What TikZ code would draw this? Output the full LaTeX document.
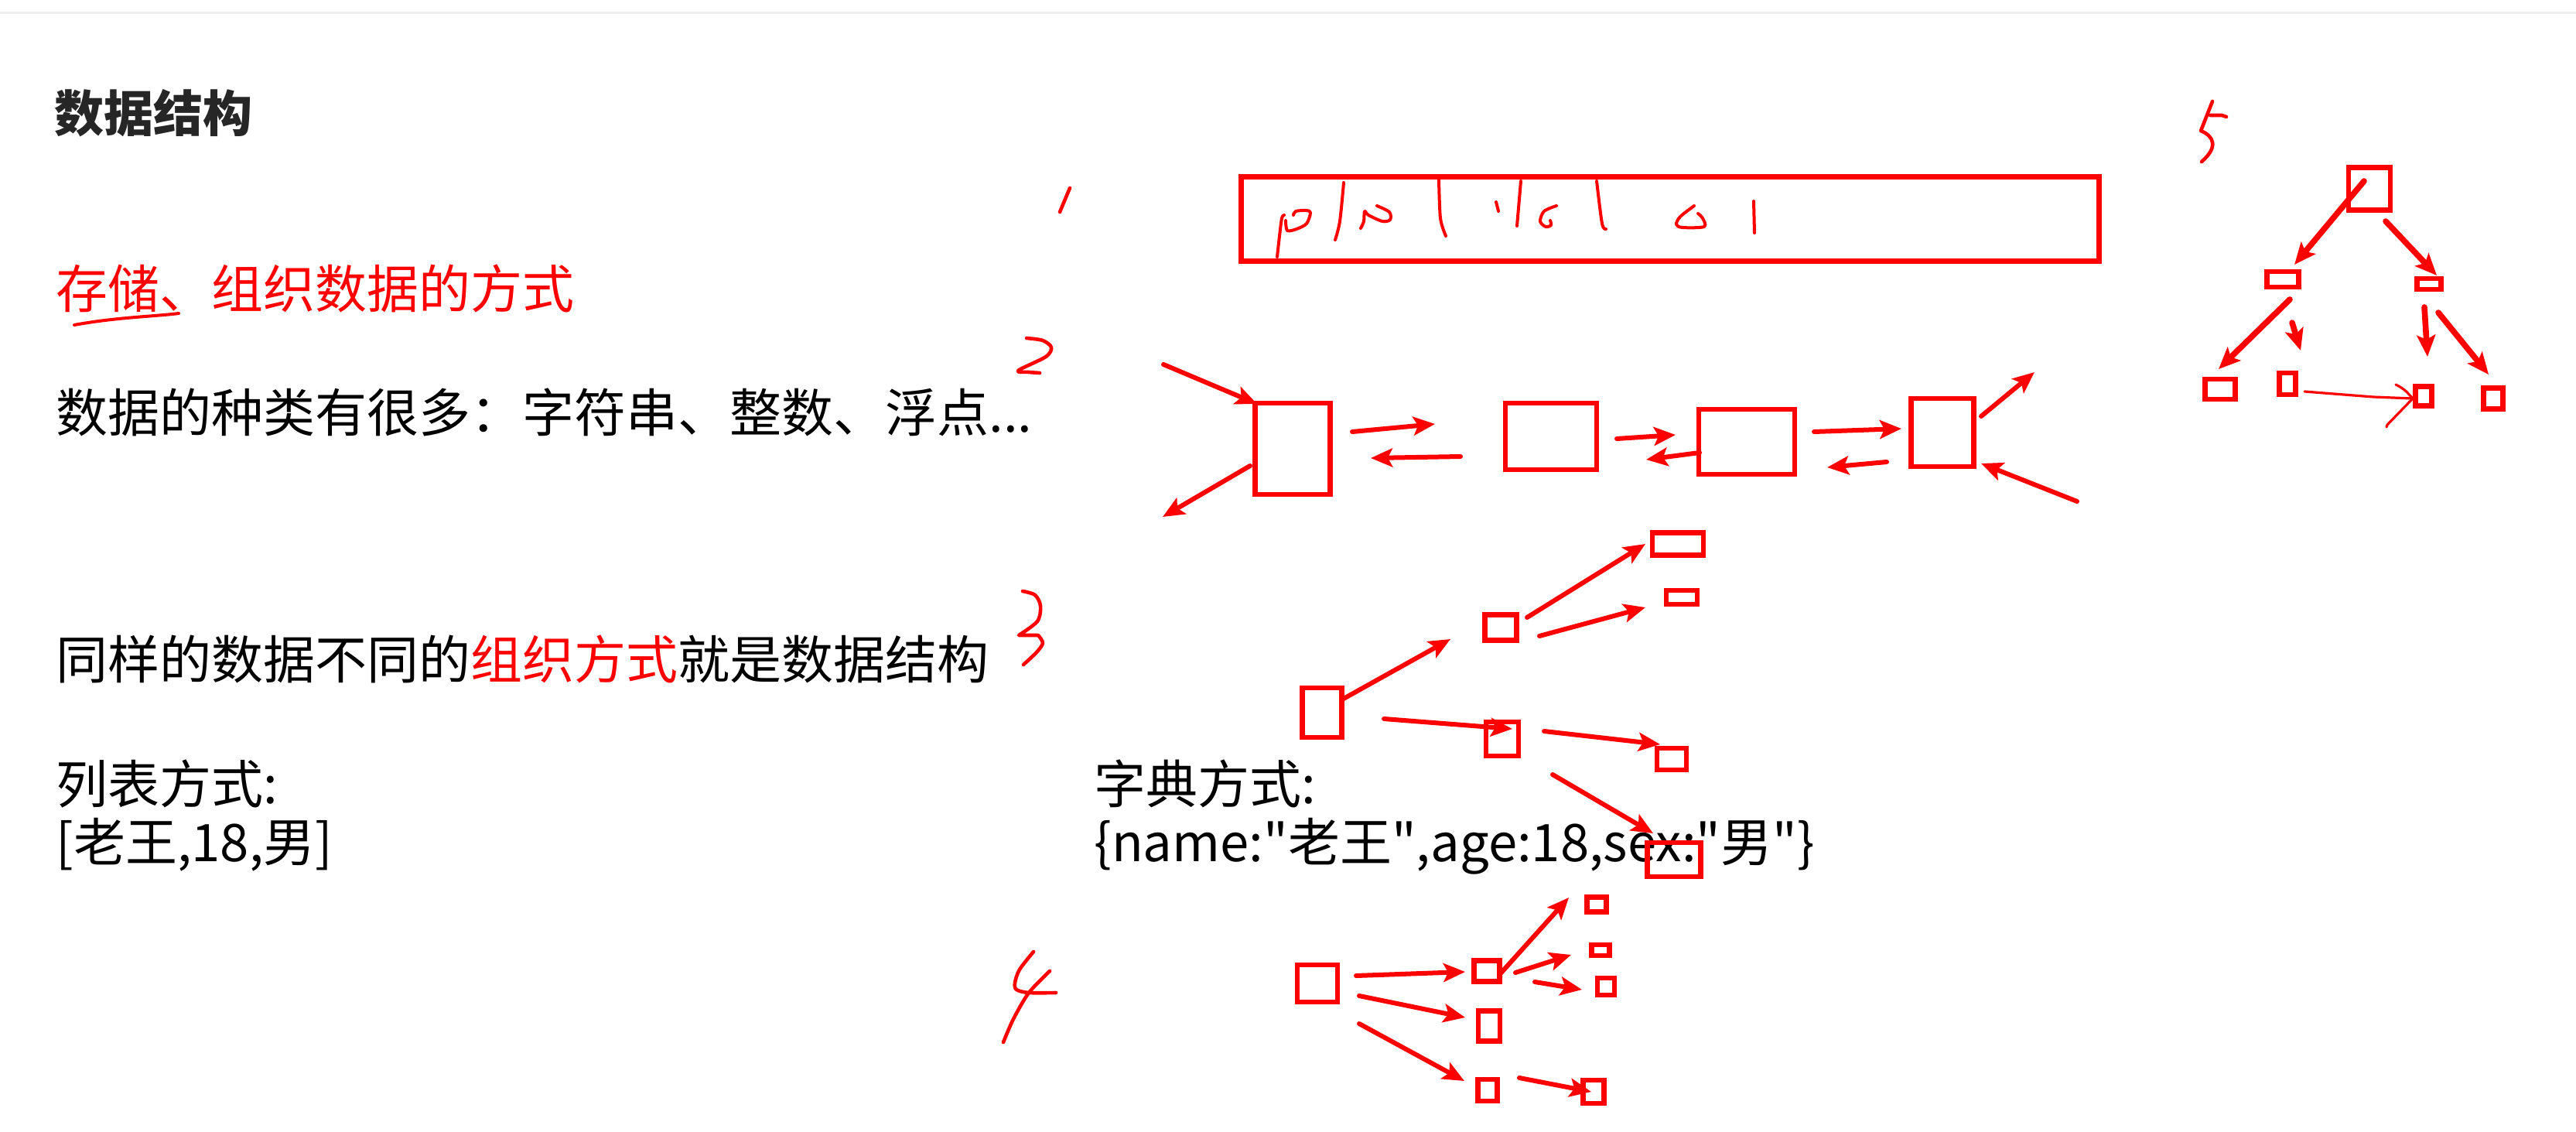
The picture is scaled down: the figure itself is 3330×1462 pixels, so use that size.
\documentclass[tikz,border=0pt]{standalone}
\usepackage{fontspec}
\setmainfont{Noto Sans CJK SC}
\usetikzlibrary{arrows.meta,calc}
\definecolor{ink}{HTML}{FF0000}
\definecolor{head}{HTML}{262626}
\definecolor{rule}{HTML}{EEEEEE}
\newcommand{\qq}{\textquotedbl}
\tikzset{
  box/.style={draw=ink, line width=3.2pt, inner sep=0pt, rectangle},
  sz/.style 2 args={minimum width=#1*.5pt, minimum height=#2*.5pt},
  arr/.style={draw=ink, line width=3pt, line cap=round, -{Stealth[length=14pt,width=12pt,inset=3pt]}},
  arrT/.style={arr, line width=3.8pt},
  hand/.style={draw=ink, line width=2.3pt, line cap=round, line join=round},
  scrib/.style={hand, line width=2pt},
  txt/.style={anchor=base west, inner sep=0pt, font=\fontsize{33.5pt}{40pt}\selectfont},
  ttl/.style={txt, text=head, font=\fontsize{32pt}{38pt}\selectfont\bfseries}
}
\begin{document}
\begin{tikzpicture}[x=0.5pt,y=-0.5pt]
  \fill[white] (0,0) rectangle (3330,1462);
  \useasboundingbox (0,0) rectangle (3330,1462);
  \draw[rule, line width=1.5pt] (0,16) -- (3330,16);

  % texts
  \node[ttl] (title) at (70,170) {数据结构};
  \node[txt, text=ink] (def) at (72,398) {存储、组织数据的方式};
  \draw[ink, line width=2pt, line cap=round] (96,420) .. controls (150,410) and (200,409) .. (231,405);
  \node[txt] (kinds) at (72,558) {数据的种类有很多：字符串、整数、浮点...};
  \node[txt] (same) at (72,877) {同样的数据不同的\textcolor{ink}{组织方式}就是数据结构};
  \node[txt] (lst) at (72,1038) {列表方式:};
  \node[txt] (lstv) at (72,1113) {[老王,18,男]};
  \node[txt] (dct) at (1414,1038) {字典方式:};
  \node[txt] (dctv) at (1414,1113) {\{name:\qq 老王\qq,age:18,sex:\qq 男\qq\}};

  % 1: array
  \draw[hand] (1383,243) -- (1370,274);
  \node[box, sz={1109}{109}, line width=3.5pt] (strip) at (2159,283) {};
  \draw[scrib] plot[smooth] coordinates {(1651,332) (1654,305) (1657,282) (1660,278)};
  \draw[scrib] plot[smooth] coordinates {(1662,285) (1664,298) (1676,296) (1689,289) (1694,275) (1689,272) (1675,273) (1672,278)};
  \draw[scrib] plot[smooth] coordinates {(1726,310) (1732,286) (1737,236)};
  \draw[scrib] plot[smooth] coordinates {(1759,295) (1763,286) (1764,273) (1769,278) (1787,286) (1797,284) (1796,274) (1780,266)};
  \draw[scrib] plot[smooth] coordinates {(1860,232) (1862,282) (1869,305)};
  \draw[scrib] (1934,261) -- (1937,273);
  \draw[scrib] (1966,234) -- (1961,292);
  \draw[scrib] plot[smooth] coordinates {(2012,266) (1996,273) (1991,286) (1998,293) (2005,291) (2004,285)};
  \draw[scrib] plot[smooth] coordinates {(2064,234) (2071,289) (2076,296)};
  \draw[scrib] plot[smooth] coordinates {(2190,266) (2172,280) (2167,290) (2175,294) (2203,293) (2201,282) (2195,276)};
  \draw[scrib] (2267,260) -- (2268,301);

  % 2: linked list
  \draw[hand] plot[smooth] coordinates {(1327,437) (1348,440) (1359,449) (1352,461) (1316,479) (1330,481) (1344,482)};
  \node[box, sz={97}{118}] (l1) at (1671,580) {};
  \node[box, sz={118}{86}] (l2) at (2005,564) {};
  \node[box, sz={124}{84}] (l3) at (2258,571) {};
  \node[box, sz={81}{88}] (l4) at (2511,559) {};
  \coordinate (in1) at (1504,471);
  \coordinate (out1) at (1503,668);
  \coordinate (out4) at (2630,481);
  \coordinate (in4) at (2685,648);
  \draw[arr] (in1) -- ($(l1)+(-46,-58)$);
  \draw[arr] ($(l1)+(-55,22)$) -- (out1);
  \draw[arr] ($(l1)+(77,-22)$) -- ($(l2)+(-150,-16)$);
  \draw[arr] ($(l2)+(-117,26)$) -- ($(l1)+(101,12)$);
  \draw[arr] ($(l2)+(85,3)$) -- ($(l3)+(-92,-9)$);
  \draw[arr] ($(l3)+(-61,14)$) -- ($(l2)+(123,30)$);
  \draw[arr] ($(l3)+(87,-13)$) -- ($(l4)+(-53,-5)$);
  \draw[arr] ($(l4)+(-72,38)$) -- ($(l3)+(104,33)$);
  \draw[arr] ($(l4)+(50,-21)$) -- (out4);
  \draw[arr] (in4) -- ($(l4)+(50,40)$);

  % 3: tree
  \draw[hand] plot[smooth] coordinates {(1322,764) (1338,769) (1345,783) (1341,803) (1317,821)} -- (1342,821)
    -- plot[smooth] coordinates {(1342,821) (1348,831) (1340,843) (1323,859)};
  \node[box, sz={51}{64}] (t3) at (1709,921) {};
  \node[box, sz={41}{33}] (t3a) at (1940,811) {};
  \node[box, sz={66}{29}] (t3a1) at (2169,703) {};
  \node[box, sz={40}{18}] (t3a2) at (2174,772) {};
  \node[box, sz={42}{44}] (t3b) at (1942,955) {};
  \node[box, sz={38}{28}] (t3b1) at (2161,981) {};
  \node[box, sz={69}{44}] (t3b2) at (2164,1111) {};
  \draw[arr] ($(t3)+(26,-17)$) -- ($(t3a)+(-65,15)$);
  \draw[arr] ($(t3a)+(34,-13)$) -- ($(t3a1)+(-42,0)$);
  \draw[arr] ($(t3a)+(50,11)$) -- ($(t3a2)+(-47,13)$);
  \draw[arr] ($(t3)+(80,8)$) -- ($(t3b)+(13,-13)$);
  \draw[arr] ($(t3b)+(54,-10)$) -- ($(t3b1)+(-15,-19)$);
  \draw[arr] ($(t3b)+(65,46)$) -- ($(t3b2)+(-27,-34)$);

  % 4: graph
  \draw[hand] plot[smooth] coordinates {(1336,1230) (1318,1253) (1312,1270) (1314,1279) (1330,1283) (1365,1283)};
  \draw[hand] plot[smooth] coordinates {(1357,1255) (1330,1283) (1310,1317) (1297,1347)};
  \node[box, sz={52}{48}] (g4) at (1703,1271) {};
  \node[box, sz={33}{27}] (g4a) at (1922,1255) {};
  \node[box, sz={25}{19}] (g4a1) at (2064,1169) {};
  \node[box, sz={23}{14}] (g4a2) at (2069,1228) {};
  \node[box, sz={22}{22}] (g4a3) at (2076,1275) {};
  \node[box, sz={28}{39}] (g4b) at (1925,1326) {};
  \node[box, sz={25}{28}] (g4c) at (1923,1409) {};
  \node[box, sz={27}{30}] (g4c1) at (2060,1411) {};
  \draw[arr] ($(g4)+(50,-10)$) -- ($(g4a)+(-28,1)$);
  \draw[arr] ($(g4a)+(16,5)$) -- ($(g4a1)+(-36,-9)$);
  \draw[arr] ($(g4a)+(37,2)$) -- ($(g4a2)+(-38,6)$);
  \draw[arr] ($(g4a)+(62,14)$) -- ($(g4a3)+(-31,4)$);
  \draw[arr] ($(g4)+(54,16)$) -- ($(g4b)+(-31,-11)$);
  \draw[arr] ($(g4)+(54,52)$) -- ($(g4c)+(-30,-12)$);
  \draw[arr] ($(g4c)+(41,-16)$) -- ($(g4c1)+(-3,0)$);

  % 5: binary tree
  \draw[hand] (2860,131) -- (2845,169) .. controls (2862,176) and (2868,190) .. (2846,209);
  \draw[hand] (2857,149) -- (2872,149) -- (2878,151);
  \node[box, sz={54}{55}] (t5) at (3063,244) {};
  \node[box, sz={41}{20}] (t5l) at (2951,361) {};
  \node[box, sz={31}{14}] (t5r) at (3140,367) {};
  \node[box, sz={39}{26}] (t5ll) at (2870,503) {};
  \node[box, sz={21}{28}] (t5lr) at (2957,496) {};
  \node[box, sz={21}{25}] (t5rl) at (3133,512) {};
  \node[box, sz={25}{27}] (t5rr) at (3223,515) {};
  \draw[arrT] ($(t5)+(-7,-10)$) -- ($(t5l)+(15,-19)$);
  \draw[arrT] ($(t5)+(21,42)$) -- ($(t5r)+(10,-11)$);
  \draw[arrT] ($(t5l)+(9,26)$) -- ($(t5ll)+(-2,-26)$);
  \draw[arrT] ($(t5l)+(12,56)$) -- ($(t5lr)+(17,-43)$);
  \draw[arrT] ($(t5r)+(-6,30)$) -- ($(t5rl)+(5,-51)$);
  \draw[arrT] ($(t5r)+(12,37)$) -- ($(t5rr)+(-6,-31)$);
  \coordinate (tip) at ($(t5rl)+(-14,3)$);
  \draw[ink, line width=1.6pt, line cap=round, line join=round] ($(t5lr)+(22,10)$) -- (3068,513) -- (tip);
  \draw[ink, line width=1.6pt, line cap=round, line join=round] (3097,497) .. controls (3108,503) .. (tip) -- (3086,549) -- (3085,552);
\end{tikzpicture}
\end{document}
